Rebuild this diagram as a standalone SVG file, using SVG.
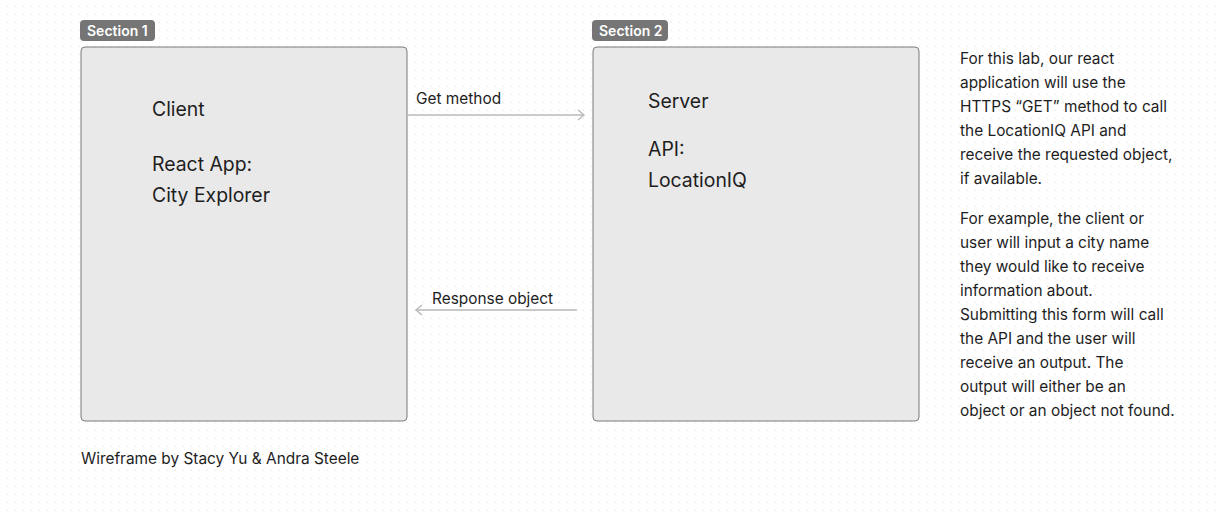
<svg xmlns="http://www.w3.org/2000/svg" width="1219" height="514" viewBox="0 0 1219 514">
<defs>
<pattern id="dots" x="0" y="0" width="8" height="8" patternUnits="userSpaceOnUse">
<rect x="6.5" y="5.5" width="1.5" height="1.5" fill="#eeeeee"/>
</pattern>
<marker id="arr" markerWidth="12" markerHeight="12" refX="10" refY="6" orient="auto" markerUnits="userSpaceOnUse">
<path d="M4,1 L10,6 L4,11" fill="none" stroke="#b8b8b8" stroke-width="1.3"/>
</marker>
<style>
text{font-family:Inter,"Noto Sans","Liberation Sans",sans-serif;fill:#1e1e1e}
.box{fill:#e9e9e9;stroke:#7a7a7a;stroke-width:1}
.tag{fill:#757575}
.tagt{fill:#fff;font-size:14px;font-weight:600}
.big{font-size:19.4px}
.mid{font-size:15.4px}
.conn{stroke:#b8b8b8;stroke-width:1.3;fill:none}
</style>
</defs>
<rect width="1219" height="514" fill="#fff"/>
<rect width="1219" height="514" fill="url(#dots)"/>
<g id="section1">
<rect class="tag" x="80" y="20" width="75" height="21" rx="4"/>
<text class="tagt" x="87" y="35.5">Section 1</text>
<rect class="box" x="81" y="47" width="326" height="374" rx="4"/>
<text class="big" x="152" y="116">Client</text>
<text class="big" x="152" y="171">React App:</text>
<text class="big" x="152" y="202">City Explorer</text>
</g>
<g id="section2">
<rect class="tag" x="592" y="20" width="76" height="21" rx="4"/>
<text class="tagt" x="599" y="35.5">Section 2</text>
<rect class="box" x="593" y="47" width="326" height="374" rx="4"/>
<text class="big" x="648" y="108">Server</text>
<text class="big" x="648" y="156">API:</text>
<text class="big" x="648" y="187">LocationIQ</text>
</g>
<g id="connectors">
<line class="conn" x1="407" y1="115" x2="584" y2="115" marker-end="url(#arr)"/>
<text class="mid" x="416" y="104">Get method</text>
<line class="conn" x1="577" y1="310" x2="416" y2="310" marker-end="url(#arr)"/>
<text class="mid" x="432" y="304">Response object</text>
</g>
<g id="notes">
<text class="mid" x="960" y="64">For this lab, our react</text>
<text class="mid" x="960" y="88">application will use the</text>
<text class="mid" x="960" y="112">HTTPS “GET” method to call</text>
<text class="mid" x="960" y="136">the LocationIQ API and</text>
<text class="mid" x="960" y="160">receive the requested object,</text>
<text class="mid" x="960" y="184">if available.</text>
<text class="mid" x="960" y="224">For example, the client or</text>
<text class="mid" x="960" y="248">user will input a city name</text>
<text class="mid" x="960" y="272">they would like to receive</text>
<text class="mid" x="960" y="296">information about.</text>
<text class="mid" x="960" y="320">Submitting this form will call</text>
<text class="mid" x="960" y="344">the API and the user will</text>
<text class="mid" x="960" y="368">receive an output. The</text>
<text class="mid" x="960" y="392">output will either be an</text>
<text class="mid" x="960" y="416">object or an object not found.</text>
</g>
<g id="footer">
<text class="mid" x="81" y="464">Wireframe by Stacy Yu &amp; Andra Steele</text>
</g>
</svg>
